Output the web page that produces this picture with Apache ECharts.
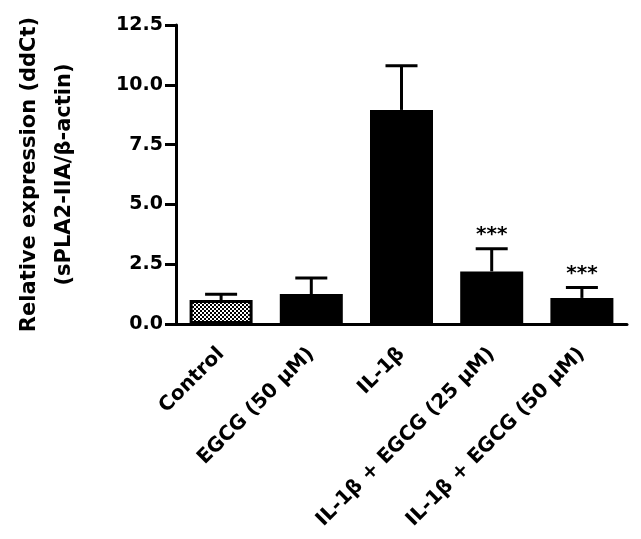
<!DOCTYPE html>
<html>
<head>
<meta charset="utf-8">
<script src="https://cdn.jsdelivr.net/npm/echarts@6/dist/echarts.min.js"></script>
<style>
  html, body { margin: 0; padding: 0; background: #fff; }
  #chart { width: 641px; height: 539px; }
</style>
</head>
<body>
<div id="chart"></div>
<script>
// 组别
const categories = ["Control", "EGCG (50 μM)", "IL-1β", "IL-1β + EGCG (25 μM)", "IL-1β + EGCG (50 μM)"];
// 均值与上误差
const means = [1.0, 1.25, 8.95, 2.2, 1.09];
const errors = [0.24, 0.67, 1.85, 0.95, 0.44];
// 显著性标记
const marks = ["", "", "", "***", "***"];
const yTicks = [0, 2.5, 5, 7.5, 10, 12.5];

const font = "DejaVu Sans";

// control 柱子的网点填充
function dotPattern() {
  let c = document.createElement("canvas");
  c.width = 4;
  c.height = 4;
  let ctx = c.getContext("2d");
  ctx.fillStyle = "#000";
  ctx.fillRect(0, 0, 4, 4);
  ctx.fillStyle = "#fff";
  ctx.fillRect(0, 0, 2, 2);
  ctx.fillRect(2, 2, 2, 2);
  return c;
}

let myChart = echarts.init(document.getElementById("chart"));
let option = {
  animation: false,
  grid: {
    left: 176,
    right: 14,
    top: 25,
    bottom: 215,
    containLabel: false,
    outerBoundsMode: "none",
  },
  xAxis: {
    type: "category",
    data: categories,
    axisLine: { lineStyle: { color: "#000", width: 3 } },
    axisTick: {
      alignWithLabel: true,
      length: 12,
      lineStyle: { color: "#000", width: 2 },
    },
    axisLabel: {
      rotate: 45,
      interval: 0,
      margin: 27,
      color: "#000",
      fontFamily: font,
      fontWeight: "bold",
      fontSize: 20,
    },
  },
  yAxis: {
    type: "value",
    min: 0,
    max: 12.5,
    interval: 2.5,
    name: "Relative expression (ddCt)\n(sPLA2-IIA/β-actin)",
    nameLocation: "middle",
    nameRotate: 90,
    nameGap: 94,
    nameTextStyle: {
      color: "#000",
      fontFamily: font,
      fontWeight: "bold",
      fontSize: 21,
      lineHeight: 35,
    },
    splitLine: { show: false },
    axisLine: { show: true, lineStyle: { color: "#000", width: 3 } },
    axisTick: { show: true, length: 11, lineStyle: { color: "#000", width: 3 } },
    axisLabel: {
      margin: 13,
      color: "#000",
      fontFamily: font,
      fontWeight: "bold",
      fontSize: 19,
      formatter: (v) => (yTicks.includes(v) ? v.toFixed(1) : ""),
    },
  },
  series: [
    {
      type: "bar",
      barWidth: 63,
      data: means.map((v, i) => ({
        value: v,
        itemStyle:
          i == 0
            ? {
                color: { image: dotPattern(), repeat: "repeat" },
                borderColor: "#000",
                borderWidth: 3,
              }
            : { color: "#000" },
      })),
    },
    {
      // 误差线 + 星号
      type: "custom",
      data: means.map((v, i) => [i, v, v + errors[i]]),
      z: 5,
      renderItem: (params, api) => {
        let i = api.value(0);
        let top = api.coord([i, api.value(1)]);
        let cap = api.coord([i, api.value(2)]);
        let half = 16;
        let children = [
          {
            type: "line",
            shape: { x1: top[0], y1: top[1], x2: cap[0], y2: cap[1] },
            style: { stroke: "#000", lineWidth: 3 },
          },
          {
            type: "line",
            shape: { x1: cap[0] - half, y1: cap[1], x2: cap[0] + half, y2: cap[1] },
            style: { stroke: "#000", lineWidth: 3 },
          },
        ];
        if (marks[i]) {
          children.push({
            type: "text",
            style: {
              text: marks[i],
              x: cap[0],
              y: cap[1] - 4,
              align: "center",
              verticalAlign: "bottom",
              fill: "#000",
              font: "bold 20px " + font,
            },
          });
        }
        return { type: "group", children: children };
      },
    },
  ],
};
myChart.setOption(option);
</script>
</body>
</html>
